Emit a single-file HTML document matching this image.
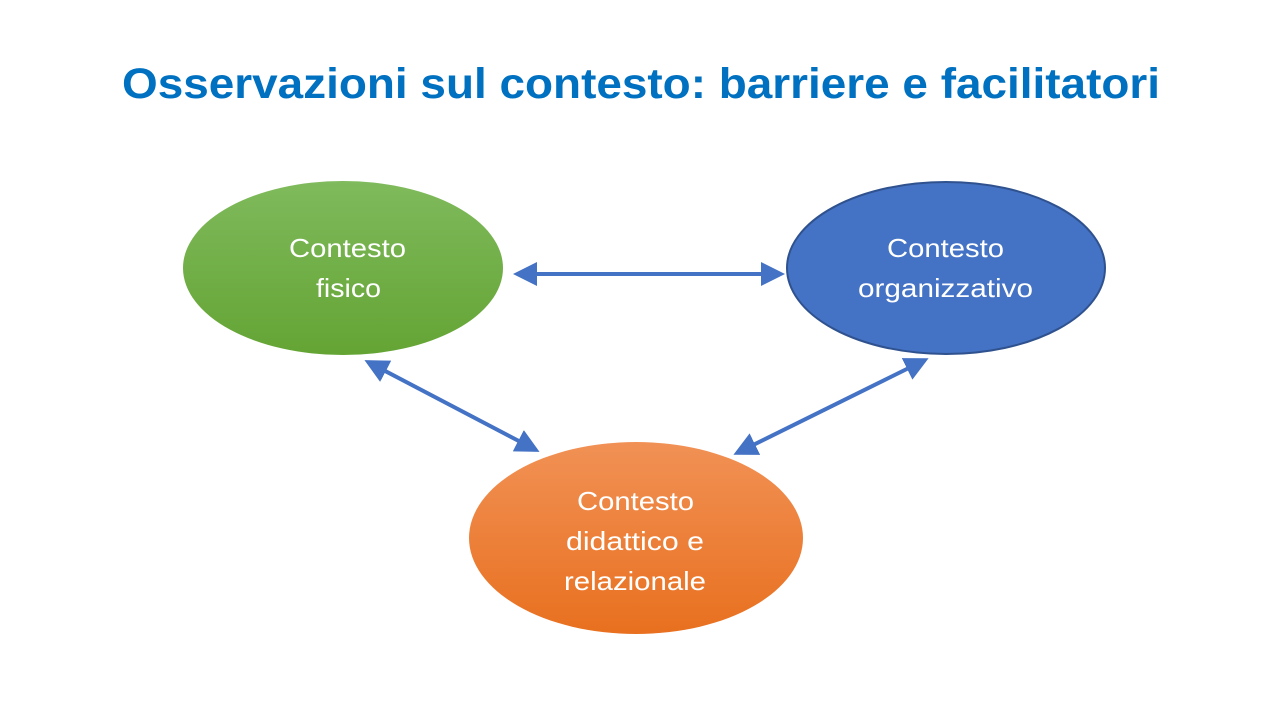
<!DOCTYPE html>
<html><head><meta charset="utf-8"><style>
html,body{margin:0;padding:0;background:#fff;width:1280px;height:720px;overflow:hidden}
</style></head><body>
<svg width="1280" height="720" xmlns="http://www.w3.org/2000/svg">
<defs>
<linearGradient id="g" x1="0" y1="0" x2="0" y2="1"><stop offset="0" stop-color="#7fba5c"/><stop offset="1" stop-color="#64a434"/></linearGradient>
<linearGradient id="o" x1="0" y1="0" x2="0" y2="1"><stop offset="0" stop-color="#f19155"/><stop offset="1" stop-color="#e8701f"/></linearGradient>
<marker id="a" markerWidth="6" markerHeight="6" refX="5" refY="3" orient="auto-start-reverse" markerUnits="strokeWidth"><path d="M0,0 L6,3 L0,6 Z" fill="#4472c4"/></marker>
</defs>
<text x="122" y="98" textLength="1038" lengthAdjust="spacingAndGlyphs" font-family="Liberation Sans, sans-serif" font-weight="bold" font-size="43" fill="#0070c0">Osservazioni sul contesto: barriere e facilitatori</text>
<ellipse cx="343" cy="268" rx="160" ry="87" fill="url(#g)"/>
<ellipse cx="946" cy="268" rx="159" ry="86" fill="#4472c4" stroke="#2f528f" stroke-width="2"/>
<ellipse cx="636" cy="538" rx="167" ry="96" fill="url(#o)"/>
<g stroke="#4472c4" stroke-width="4" marker-start="url(#a)" marker-end="url(#a)">
<line x1="517" y1="274" x2="781" y2="274"/>
<line x1="368" y1="362" x2="536" y2="450"/>
<line x1="925" y1="360" x2="737" y2="453"/>
</g>
<g font-family="Liberation Sans, sans-serif" font-size="26" fill="#fff" lengthAdjust="spacingAndGlyphs">
<text x="289" y="257" textLength="117" lengthAdjust="spacingAndGlyphs">Contesto</text><text x="316" y="297" textLength="65" lengthAdjust="spacingAndGlyphs">fisico</text>
<text x="887" y="257" textLength="117" lengthAdjust="spacingAndGlyphs">Contesto</text><text x="858" y="297" textLength="175" lengthAdjust="spacingAndGlyphs">organizzativo</text>
<text x="577" y="510" textLength="117" lengthAdjust="spacingAndGlyphs">Contesto</text><text x="566" y="550" textLength="138" lengthAdjust="spacingAndGlyphs">didattico e</text><text x="564" y="590" textLength="142" lengthAdjust="spacingAndGlyphs">relazionale</text>
</g>
</svg>
</body></html>
